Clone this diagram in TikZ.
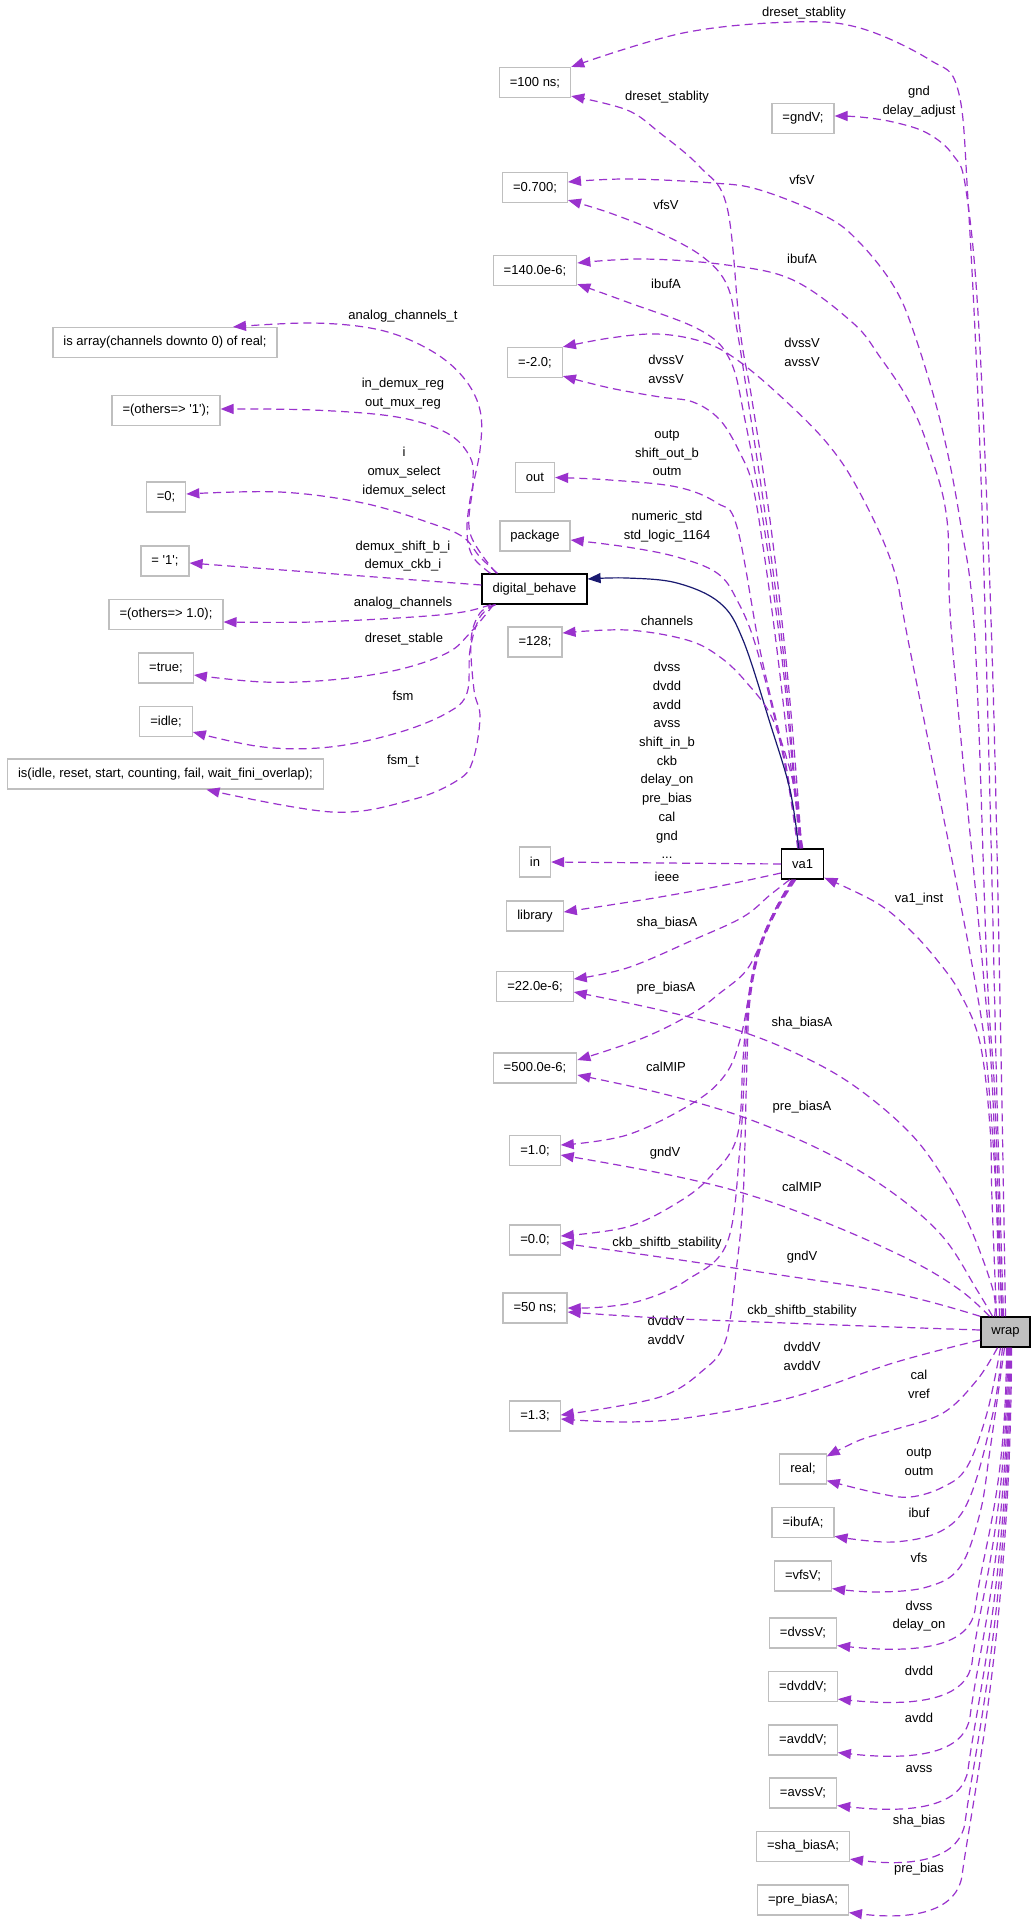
\documentclass[tikz,border=0pt]{standalone}
\usepackage{fontspec}
\newfontfamily\lfont{Liberation Sans}
\usetikzlibrary{arrows.meta}
\definecolor{depc}{HTML}{9A32CD}
\definecolor{navyc}{HTML}{191970}
\definecolor{boxgray}{HTML}{BFBFBF}
\begin{document}
\begin{tikzpicture}[x=1pt,y=-1pt,
  every node/.style={font=\lfont\fontsize{13}{18.7}\selectfont},
  leaf/.style={draw=boxgray, line width=1.2pt, fill=white, minimum height=30pt, inner xsep=10.5pt, inner ysep=0pt},
  mainbox/.style={draw=black, line width=1.4pt, fill=white, minimum height=30pt, inner xsep=10.5pt, inner ysep=0pt},
  lab/.style={align=center, inner sep=0pt},
  dep/.style={draw=depc, line width=1.2pt, dash pattern=on 8pt off 5pt, -{Triangle[length=13pt,width=10pt]}},
  inh/.style={draw=navyc, line width=1.2pt, -{Triangle[length=13pt,width=10pt]}},
  sm/.style={smooth, tension=0.6}]
\fill[white] (0,0) rectangle (1035,1920);
\useasboundingbox (0,0) rectangle (1035,1920);

% left column
\node[leaf] (isarray) at (165,342.5) {is array(channels downto 0) of real;};
\node[leaf] (others1) at (166,410.5) {=(others=> '1');};
\node[leaf] (zero) at (166,497) {=0;};
\node[leaf] (q1) at (165,561) {= '1';};
\node[leaf] (others10) at (166,614.5) {=(others=> 1.0);};
\node[leaf] (true) at (166,668) {=true;};
\node[leaf] (idle) at (166,721.5) {=idle;};
\node[leaf] (isidle) at (165.5,774) {is(idle, reset, start, counting, fail, wait\_fini\_overlap);};

% middle column
\node[leaf] (n100ns) at (535,82.5) {=100 ns;};
\node[leaf] (n0700) at (535,187.5) {=0.700;};
\node[leaf] (n140) at (535,270.5) {=140.0e-6;};
\node[leaf] (nm20) at (535,362.5) {=-2.0;};
\node[leaf] (out) at (535,477.5) {out};
\node[leaf] (package) at (535,536) {package};
\node[mainbox] (db) at (534.5,589) {digital\_behave};
\node[leaf] (n128) at (535,642) {=128;};
\node[leaf] (in) at (535,862) {in};
\node[leaf] (library) at (535,916) {library};
\node[leaf] (n22) at (535,986.5) {=22.0e-6;};
\node[leaf] (n500) at (535,1068) {=500.0e-6;};
\node[leaf] (n10) at (535,1150.5) {=1.0;};
\node[leaf] (n00) at (535,1240) {=0.0;};
\node[leaf] (n50) at (535,1308) {=50 ns;};
\node[leaf] (n13) at (535,1416) {=1.3;};

% right column
\node[leaf] (gndV) at (803,118.5) {=gndV;};
\node[mainbox] (va1) at (802.7,864) {va1};
\node[leaf] (real) at (803,1469) {real;};
\node[leaf] (ibufA) at (803,1522.7) {=ibufA;};
\node[leaf] (vfsV) at (803,1576) {=vfsV;};
\node[leaf] (dvssV) at (803,1633) {=dvssV;};
\node[leaf] (dvddV) at (803,1686.5) {=dvddV;};
\node[leaf] (avddV) at (803,1740) {=avddV;};
\node[leaf] (avssV) at (803,1793) {=avssV;};
\node[leaf] (shabiasA) at (803,1846.5) {=sha\_biasA;};
\node[leaf] (prebiasA) at (803,1900) {=pre\_biasA;};
\node[mainbox, fill=boxgray] (wrap) at (1005.5,1332) {wrap};

% labels
\node[lab] (l1) at (804,13) {dreset\_stablity};
\node[lab] (l2) at (667,97) {dreset\_stablity};
\node[lab] (l3) at (919,101.5) {gnd\\delay\_adjust};
\node[lab] (l4) at (802,180) {vfsV};
\node[lab] (l5) at (666,205) {vfsV};
\node[lab] (l6) at (802,259) {ibufA};
\node[lab] (l7) at (666,284) {ibufA};
\node[lab] (l8) at (802,352) {dvssV\\avssV};
\node[lab] (l9) at (666,369.5) {dvssV\\avssV};
\node[lab] (l10) at (667,453) {outp\\shift\_out\_b\\outm};
\node[lab] (l11) at (667,526.5) {numeric\_std\\std\_logic\_1164};
\node[lab] (l12) at (667,621) {channels};
\node[lab] (l13) at (667,760.5) {dvss\\dvdd\\avdd\\avss\\shift\_in\_b\\ckb\\delay\_on\\pre\_bias\\cal\\gnd\\...};
\node[lab] (l14) at (667,877) {ieee};
\node[lab] (l15) at (667,923) {sha\_biasA};
\node[lab] (l16) at (919,899) {va1\_inst};
\node[lab] (l17) at (666,988) {pre\_biasA};
\node[lab] (l18) at (802,1023) {sha\_biasA};
\node[lab] (l19) at (666,1067) {calMIP};
\node[lab] (l20) at (802,1107) {pre\_biasA};
\node[lab] (l21) at (665,1153) {gndV};
\node[lab] (l22) at (802,1187) {calMIP};
\node[lab] (l23) at (667,1243) {ckb\_shiftb\_stability};
\node[lab] (l24) at (802,1257) {gndV};
\node[lab] (l25) at (802,1311) {ckb\_shiftb\_stability};
\node[lab] (l26) at (666,1330.5) {dvddV\\avddV};
\node[lab] (l27) at (802,1356) {dvddV\\avddV};
\node[lab] (l28) at (919,1384) {cal\\vref};
\node[lab] (l29) at (919,1461.5) {outp\\outm};
\node[lab] (l30) at (919,1513) {ibuf};
\node[lab] (l31) at (919,1558) {vfs};
\node[lab] (l32) at (919,1616) {dvss\\delay\_on};
\node[lab] (l33) at (919,1671) {dvdd};
\node[lab] (l34) at (919,1718) {avdd};
\node[lab] (l35) at (919,1769) {avss};
\node[lab] (l36) at (919,1821) {sha\_bias};
\node[lab] (l37) at (919,1869) {pre\_bias};
\node[lab] (k1) at (403,316) {analog\_channels\_t};
\node[lab] (k2) at (403,393.5) {in\_demux\_reg\\out\_mux\_reg};
\node[lab] (k3) at (404,472) {i\\omux\_select\\idemux\_select};
\node[lab] (k4) at (403,556) {demux\_shift\_b\_i\\demux\_ckb\_i};
\node[lab] (k5) at (403,603) {analog\_channels};
\node[lab] (k6) at (404,639) {dreset\_stable};
\node[lab] (k7) at (403,696) {fsm};
\node[lab] (k8) at (403,761) {fsm\_t};

% wrap edges (upward)
\draw[dep] plot[sm] coordinates {([xshift=-2pt]wrap.north) (997,1100) (990,800) (980,450) (968,200) (958,90) (930,60) (860,28) (793,22) (683,33) (n100ns.north east)};
\draw[dep] plot[sm] coordinates {([xshift=0pt]wrap.north) (1000,1000) (992,650) (979,330) (966,190) (953,155) (927,133) (893,122) (860,117) ([yshift=2.5pt]gndV.east)};
\draw[dep] plot[sm] coordinates {([xshift=-4pt]wrap.north) (995,1100) (987,970) (975,640) (960,520) (940,420) (913,330) (893,285) (860,243) (827,217) (760,190) (713,183) (627,179) ([yshift=5.5pt]n0700.east)};
\draw[dep] plot[sm] coordinates {([xshift=-6pt]wrap.north) (993,1100) (983,970) (952,640) (947,520) (930,453) (910,403) (880,357) (853,323) (793,280) (727,265) (643,259) ([yshift=7.5pt]n140.east)};
\draw[dep] plot[sm] coordinates {([xshift=-3pt]wrap.north) (990,1100) (973,970) (910,650) (893,567) (860,493) (827,443) (777,393) (733,357) (700,341) (657,334) (610,338) (nm20.north east)};
\draw[dep] plot[sm] coordinates {([xshift=-9pt]wrap.north) (992,1200) (990,1127) (980,1043) (960,993) (937,960) (910,930) (877,903) ([yshift=2pt]va1.south east)};
\draw[dep] plot[sm] coordinates {([xshift=-11pt]wrap.north) (993,1290) (970,1227) (943,1177) (910,1133) (860,1090) (810,1060) (743,1032) (660,1010) ([yshift=-5.5pt]n22.east)};
\draw[dep] plot[sm] coordinates {([xshift=-13pt]wrap.north) (977,1290) (943,1237) (893,1193) (827,1153) (743,1117) (660,1093) ([yshift=-7pt]n500.east)};
\draw[dep] plot[sm] coordinates {([xshift=-16pt]wrap.north) (960,1290) (910,1260) (827,1223) (743,1193) (660,1173) ([yshift=-4.5pt]n10.east)};
\draw[dep] plot[sm] coordinates {(wrap.north west) (893,1293) (760,1272) (660,1257) ([yshift=-3pt]n00.east)};
\draw[dep] plot[sm] coordinates {([yshift=2pt]wrap.west) (893,1327) (760,1322) (660,1318) ([yshift=-4pt]n50.east)};
\draw[dep] plot[sm] coordinates {([yshift=-8pt]wrap.west) (893,1363) (793,1397) (693,1417) (627,1422) ([yshift=-3pt]n13.east)};
% wrap edges (downward)
\draw[dep] plot[sm] coordinates {([xshift=-8pt]wrap.south) (977,1380) (943,1413) (893,1430) (860,1440) ([yshift=-3pt]real.north east)};
\draw[dep] plot[sm] coordinates {([xshift=-5pt]wrap.south) (987,1413) (967,1467) (943,1487) (910,1497) (877,1493) ([yshift=4pt]real.south east)};
\draw[dep] plot[sm] coordinates {([xshift=-3pt]wrap.south) (993,1413) (970,1497) (943,1530) (893,1542) ([yshift=2pt]ibufA.south east)};
\draw[dep] plot[sm] coordinates {([xshift=-1pt]wrap.south) (990,1450) (980,1513) (960,1567) (927,1587) (877,1592) ([yshift=3pt]vfsV.south east)};
\draw[dep] ([xshift=1pt]wrap.south) .. controls (1006,1496) and (983,1545) .. (975,1610) .. controls (970,1642) and (930,1655) .. ([yshift=3pt]dvssV.south east);
\draw[dep] ([xshift=2pt]wrap.south) .. controls (1007,1522) and (980,1598) .. (972,1663) .. controls (967,1695) and (928,1708) .. ([yshift=3pt]dvddV.south east);
\draw[dep] ([xshift=3pt]wrap.south) .. controls (1008,1550) and (978,1652) .. (970,1717) .. controls (965,1749) and (926,1762) .. ([yshift=3pt]avddV.south east);
\draw[dep] ([xshift=4pt]wrap.south) .. controls (1009,1576) and (976,1705) .. (968,1770) .. controls (963,1802) and (924,1815) .. ([yshift=3pt]avssV.south east);
\draw[dep] ([xshift=5pt]wrap.south) .. controls (1010,1602) and (973,1758) .. (965,1823) .. controls (960,1855) and (922,1868) .. ([yshift=3pt]shabiasA.south east);
\draw[dep] ([xshift=6pt]wrap.south) .. controls (1011,1629) and (970,1811) .. (962,1876) .. controls (957,1908) and (920,1921) .. ([yshift=3pt]prebiasA.south east);

% va1 edges (upward)
\draw[dep] plot[sm] coordinates {([xshift=-1pt]va1.north) (795,760) (785,650) (770,520) (752,400) (740,330) (727,207) (700,167) (660,133) (627,110) ([yshift=2pt]n100ns.south east)};
\draw[dep] plot[sm] coordinates {([xshift=-2pt]va1.north) (793,760) (783,650) (766,520) (748,400) (737,330) (727,285) (703,257) (660,233) (610,213) ([yshift=3pt]n0700.south east)};
\draw[dep] plot[sm] coordinates {([xshift=-3pt]va1.north) (792,760) (781,650) (763,520) (745,420) (730,360) (700,330) (627,302) ([yshift=2pt]n140.south east)};
\draw[dep] plot[sm] coordinates {(va1.north) (790,760) (777,650) (765,560) (753,487) (740,453) (720,420) (693,402) (660,397) (610,388) ([yshift=2pt]nm20.south east)};
\draw[dep] plot[sm] coordinates {([xshift=-4pt]va1.north) (785,760) (760,650) (737,527) (717,503) (677,487) (610,480) (out.east)};
\draw[dep] plot[sm] coordinates {([xshift=-5pt]va1.north) (784,760) (757,650) (737,600) (717,573) (677,557) (627,547) ([yshift=-4pt]package.east)};
\draw[inh] plot[sm] coordinates {([xshift=-4pt]va1.north) (790,790) (770,723) (743,640) (720,603) (677,583) (627,578) ([yshift=10pt]db.east)};
\draw[dep] plot[sm] coordinates {([xshift=-2pt]va1.north) (795,790) (773,720) (747,683) (720,657) (687,640) (627,630) ([yshift=9pt]n128.east)};
% va1 edges (left/down)
\draw[dep] (va1.west) -- (in.east);
\draw[dep] plot[sm] coordinates {([yshift=-9pt]va1.west) (720,886) (660,897) (610,905) ([yshift=4pt]library.east)};
\draw[dep] plot[sm] coordinates {([xshift=-13pt]va1.south) (770,895) (743,917) (693,940) (627,968) ([yshift=7.5pt]n22.east)};
\draw[dep] plot[sm] coordinates {([xshift=-11pt]va1.south) (775,910) (760,945) (745,972) (720,993) (693,1013) (643,1038) ([yshift=8pt]n500.east)};
\draw[dep] plot[sm] coordinates {([xshift=-10pt]va1.south) (775,910) (760,945) (750,990) (740,1040) (725,1075) (693,1103) (627,1135) ([yshift=5.5pt]n10.east)};
\draw[dep] plot[sm] coordinates {([xshift=-9pt]va1.south) (775,910) (758,950) (748,1000) (743,1060) (737,1137) (710,1177) (677,1203) (627,1227) ([yshift=4pt]n00.east)};
\draw[dep] plot[sm] coordinates {([xshift=-8pt]va1.south) (776,910) (759,950) (749,1000) (745,1060) (740,1147) (727,1243) (687,1280) (643,1300) (603,1307) (n50.east)};
\draw[dep] plot[sm] coordinates {([xshift=-7pt]va1.south) (777,910) (760,950) (750,1000) (747,1060) (743,1200) (735,1280) (730,1320) (723,1347) (707,1367) (660,1397) ([yshift=1pt]n13.east)};

% digital_behave edges
\draw[dep] plot[sm] coordinates {([xshift=-44pt]db.north) (473,557) (467,533) (470,500) (480,450) (480,410) (463,377) (430,350) (380,330) (313,323) ([xshift=68pt]isarray.north)};
\draw[dep] plot[sm] coordinates {([xshift=-38pt]db.north) (470,533) (473,483) (470,457) (447,433) (397,417) (313,410) ([yshift=1.5pt]others1.east)};
\draw[dep] plot[sm] coordinates {([xshift=-37pt]db.north) (480,557) (463,537) (430,523) (363,503) (280,492) ([yshift=3pt]zero.east)};
\draw[dep] ([yshift=4pt]db.west) -- ([yshift=-2pt]q1.east);
\draw[dep] plot[sm] coordinates {([xshift=-44pt]db.south) (463,612) (413,617) (313,622) ([yshift=-7.5pt]others10.east)};
\draw[dep] plot[sm] coordinates {([xshift=-41pt]db.south) (470,633) (447,653) (397,670) (330,680) (263,682) ([yshift=-7pt]true.east)};
\draw[dep] plot[sm] coordinates {([xshift=-39pt]db.south) (480,617) (470,650) (467,693) (447,713) (397,733) (330,747) (263,747) ([yshift=-10.5pt]idle.east)};
\draw[dep] plot[sm] coordinates {([xshift=-39pt]db.south) (480,613) (471,640) (474,690) (480,717) (473,760) (458,780) (411,800) (332,812) ([xshift=41pt]isidle.south)};
\end{tikzpicture}
\end{document}
